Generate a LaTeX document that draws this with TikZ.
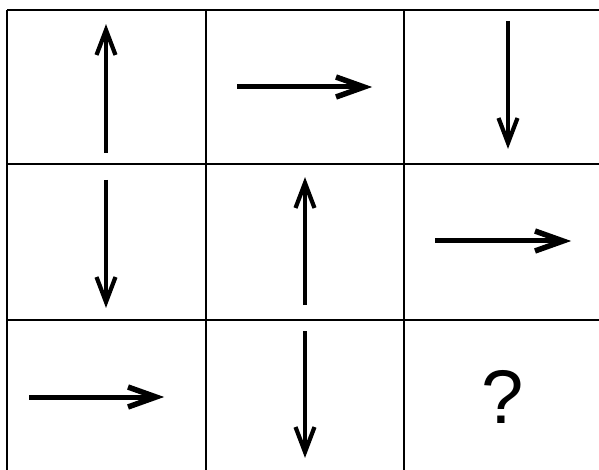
\documentclass[tikz,border=0pt]{standalone}
\usepackage{fontspec}
\setmainfont{Liberation Sans}
\tikzset{
  gridline/.style={line width=2pt, black},
  vtarrow/.style={line width=3.8pt},
  hzarrow/.style={line width=5pt},
  vbarb/.style={line width=4.2pt, line join=miter, miter limit=10},
  hbarb/.style={line width=5.5pt, line join=miter, miter limit=10},
  qmark/.style={font=\fontsize{76pt}{76pt}\selectfont, inner sep=0pt}
}
\begin{document}
\begin{tikzpicture}[x=1pt,y=-1pt]
\useasboundingbox (0,0) rectangle (599,470);
\clip (0,0) rectangle (599,470);
\fill[white] (0,0) rectangle (599,470);
% grid
\draw[gridline] (7,10) -- (610,10);
\draw[gridline] (7,164.5) -- (610,164.5);
\draw[gridline] (7,320) -- (610,320);
\draw[gridline] (7,10) -- (7,480);
\draw[gridline] (205.5,10) -- (205.5,480);
\draw[gridline] (404,10) -- (404,480);
% arrow end points (tip points set back by the miter overshoot)
\coordinate (a1s) at (106,153); \coordinate (a1e) at (106,30);
\coordinate (a2s) at (237,87);  \coordinate (a2e) at (364,87);
\coordinate (a3s) at (508,21);  \coordinate (a3e) at (508,143);
\coordinate (b1s) at (106,180); \coordinate (b1e) at (106,302);
\coordinate (b2s) at (305,305); \coordinate (b2e) at (305,183);
\coordinate (b3s) at (435,241); \coordinate (b3e) at (563,241);
\coordinate (c1s) at (29,397);  \coordinate (c1e) at (156,397);
\coordinate (c2s) at (305,331); \coordinate (c2e) at (305,452);
% shafts
\draw[vtarrow] (a1s) -- (a1e);
\draw[hzarrow] (a2s) -- (a2e);
\draw[vtarrow] (a3s) -- (a3e);
\draw[vtarrow] (b1s) -- (b1e);
\draw[vtarrow] (b2s) -- (b2e);
\draw[hzarrow] (b3s) -- (b3e);
\draw[hzarrow] (c1s) -- (c1e);
\draw[vtarrow] (c2s) -- (c2e);
% heads
\draw[vbarb] ([shift={(-9.5,25)}]a1e) -- (a1e) -- ([shift={(9.5,25)}]a1e);
\draw[vbarb] ([shift={(-9.5,25)}]b2e) -- (b2e) -- ([shift={(9.5,25)}]b2e);
\draw[vbarb] ([shift={(-9.5,-25)}]a3e) -- (a3e) -- ([shift={(9.5,-25)}]a3e);
\draw[vbarb] ([shift={(-9.5,-25)}]b1e) -- (b1e) -- ([shift={(9.5,-25)}]b1e);
\draw[vbarb] ([shift={(-9.5,-25)}]c2e) -- (c2e) -- ([shift={(9.5,-25)}]c2e);
\draw[hbarb] ([shift={(-28,-10)}]a2e) -- (a2e) -- ([shift={(-28,10)}]a2e);
\draw[hbarb] ([shift={(-28,-10)}]b3e) -- (b3e) -- ([shift={(-28,10)}]b3e);
\draw[hbarb] ([shift={(-28,-10)}]c1e) -- (c1e) -- ([shift={(-28,10)}]c1e);
% question mark
\node[qmark] (q) at (503,397) {?};
\end{tikzpicture}
\end{document}
